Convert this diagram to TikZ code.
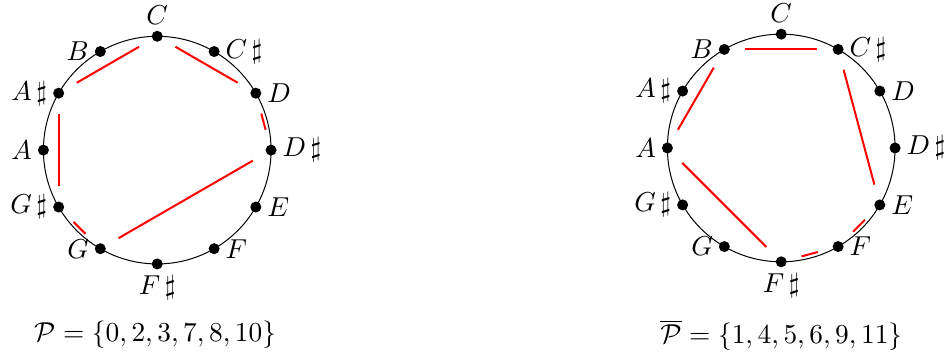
\documentclass[tikz,border=0pt]{standalone}
\usepackage{amssymb}
\usepackage{tikz}
\usetikzlibrary{positioning, calc}

\begin{document}
\begin{tikzpicture}[
    font=\fontsize{11}{13}\selectfont,
    dot/.style={circle, fill=black, inner sep=0pt, minimum size=4.4pt},
    ring/.style={draw=black, thin},
    edge/.style={draw=red, thick, shorten <=6pt, shorten >=6pt},
    every label/.style={inner sep=2pt}
]
\useasboundingbox (0,0) rectangle (13.31,5.03);
\coordinate (lo) at (2.21,2.92);
\coordinate (ro) at (10.98,2.95);

% chromatic circles
\foreach \s in {l, r} {
    \draw[ring] (\s o) circle (1.6);
    \foreach \i/\n/\pos in {0/C/above, 1/C\,\sharp/right, 2/D/right, 3/D\,\sharp/right,
        4/E/right, 5/F/right, 6/F\,\sharp/below, 7/G/left, 8/G\,\sharp/left,
        9/A/left, 10/A\,\sharp/left, 11/B/left}
        \node[dot, label={\pos:$\n$}] (\s\i) at ($(\s o)+({90-30*\i}:1.6)$) {};
}

% pitch class sets
\foreach \a/\b in {0/2, 2/3, 3/7, 7/8, 8/10, 10/0} \draw[edge] (l\a) -- (l\b);
\foreach \a/\b in {1/4, 4/5, 5/6, 6/9, 9/11, 11/1} \draw[edge] (r\a) -- (r\b);

\node (pl) at (2.18,0.32) {$\mathcal{P} = \{0,2,3,7,8,10\}$};
\node (pr) at (10.98,0.32) {$\overline{\mathcal{P}} = \{1,4,5,6,9,11\}$};
\end{tikzpicture}
\end{document}
